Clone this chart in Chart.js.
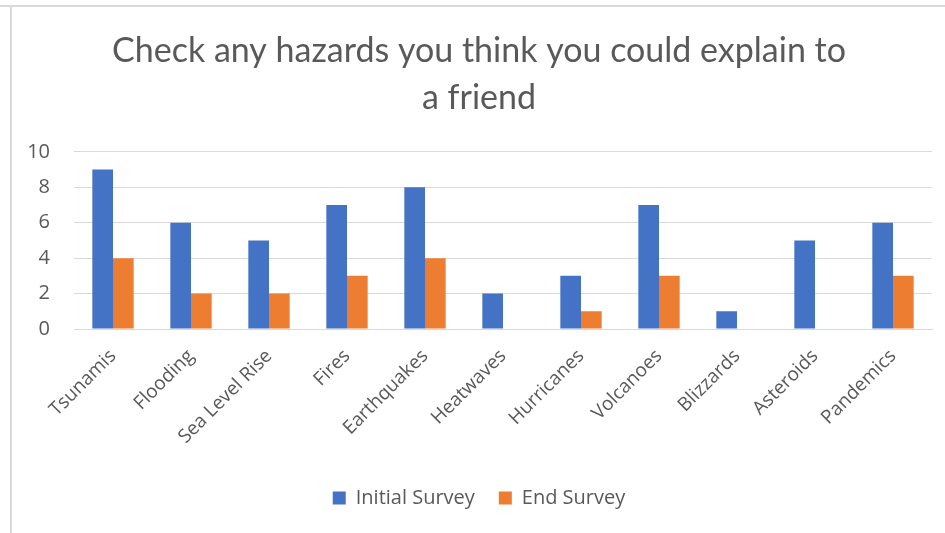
<!DOCTYPE html>
<html>
<head>
<meta charset="utf-8">
<script src="https://cdn.jsdelivr.net/npm/chart.js@4"></script>
<style>
  body { margin: 0; background: #fff; }
  #wrap { position: relative; width: 945px; height: 533px; }
  #frameTop { position: absolute; left: 0; top: 5px; width: 945px; height: 2px; background: #d9d9d9; }
  #frameLeft { position: absolute; left: 10px; top: 5px; width: 2px; height: 528px; background: #d9d9d9; }
</style>
</head>
<body>
<div id="wrap">
  <canvas id="myChart" width="945" height="533"></canvas>
  <div id="frameTop"></div>
  <div id="frameLeft"></div>
</div>
<script>
'use strict'

const hazards = ['Tsunamis', 'Flooding', 'Sea Level Rise', 'Fires', 'Earthquakes', 'Heatwaves',
  'Hurricanes', 'Volcanoes', 'Blizzards', 'Asteroids', 'Pandemics']
const initialSurvey = [9, 6, 5, 7, 8, 2, 3, 7, 1, 5, 6]
const endSurvey = [4, 2, 2, 3, 4, 0, 1, 3, 0, 0, 3]
const yTicks = [0, 2, 4, 6, 8, 10]

const titleFont = 'Lato, "Open Sans", sans-serif'
const labelFont = '"Open Sans", "Noto Sans", sans-serif'
const textColor = '#595959'

const ctx = document.getElementById('myChart')

const myChart = new Chart(ctx, {
  type: 'bar',
  data: {
    labels: hazards,
    datasets: [
      {
        label: 'Initial Survey',
        data: initialSurvey,
        backgroundColor: '#4472C4',
        categoryPercentage: 0.53,
        barPercentage: 1,
      },
      {
        label: 'End Survey',
        data: endSurvey,
        backgroundColor: '#ED7D31',
        categoryPercentage: 0.53,
        barPercentage: 1,
      },
    ],
  },
  options: {
    responsive: false,
    animation: false,
    layout: { padding: { left: 26, right: 13, top: 28, bottom: 15 } },
    plugins: {
      title: {
        display: true,
        text: ['Check any hazards you think you could explain to', 'a friend'],
        color: textColor,
        font: { family: titleFont, size: 34, weight: 'normal', lineHeight: 1.38 },
        padding: { top: 0, bottom: 30 },
      },
      legend: {
        position: 'bottom',
        labels: {
          color: textColor,
          font: { family: labelFont, size: 20 },
          boxWidth: 13,
          boxHeight: 13,
          padding: 24,
        },
      },
      tooltip: { enabled: false },
    },
    scales: {
      x: {
        afterFit: (scale) => { scale.height = 135 },
        grid: { display: false, drawTicks: false },
        border: { color: '#d9d9d9' },
        ticks: {
          color: textColor,
          font: { family: labelFont, size: 19 },
          minRotation: 45,
          maxRotation: 45,
          padding: 16,
        },
      },
      y: {
        min: 0,
        max: 10,
        afterBuildTicks: (scale) => {
          scale.ticks = yTicks.map((v) => ({ value: v }))
        },
        afterFit: (scale) => { scale.width = 48 },
        grid: { color: '#d9d9d9', drawTicks: false },
        border: { display: false },
        ticks: {
          color: textColor,
          font: { family: labelFont, size: 20 },
          padding: 24,
        },
      },
    },
  },
})
</script>
</body>
</html>
